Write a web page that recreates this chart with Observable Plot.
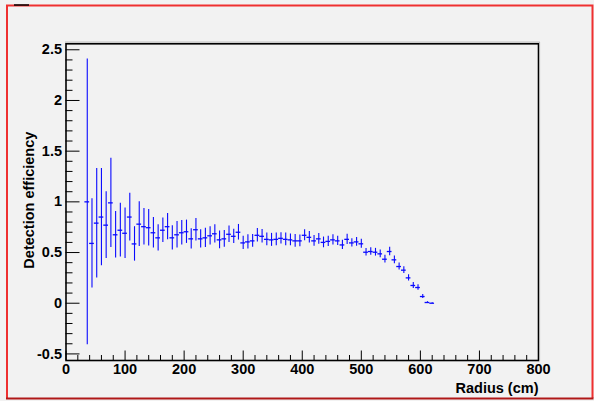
<!DOCTYPE html>
<html><head><meta charset="utf-8">
<script src="https://cdn.jsdelivr.net/npm/d3@7"></script>
<script src="https://cdn.jsdelivr.net/npm/@observablehq/plot@0.6"></script>
<style>
html,body{margin:0;padding:0;background:#f2f2f2;}
#chart svg{display:block;}
</style></head><body><div id="chart"></div>
<script>
// Bin centres (cm), bin width 8 cm
const radius = [36,44,52,60,68,76,84,92,100,108,116,124,132,140,148,156,164,172,180,188,196,204,212,220,228,236,244,252,260,268,276,284,292,300,308,316,324,332,340,348,356,364,372,380,388,396,404,412,420,428,436,444,452,460,468,476,484,492,500,508,516,524,532,540,548,556,564,572,580,588,596,604,612,620];
const efficiency = [1.00,0.59,0.79,0.85,0.77,0.99,0.675,0.72,0.69,0.85,0.585,0.78,0.755,0.745,0.695,0.645,0.72,0.755,0.645,0.675,0.695,0.705,0.635,0.725,0.635,0.645,0.665,0.685,0.625,0.635,0.68,0.66,0.70,0.595,0.605,0.615,0.67,0.66,0.63,0.625,0.63,0.64,0.63,0.625,0.615,0.615,0.67,0.65,0.615,0.635,0.60,0.61,0.625,0.615,0.575,0.63,0.595,0.605,0.586,0.503,0.51,0.503,0.487,0.434,0.51,0.428,0.362,0.326,0.25,0.175,0.155,0.066,0.007,0.0];
const efficiencyError = [1.41,0.44,0.54,0.48,0.33,0.44,0.23,0.265,0.25,0.235,0.17,0.22,0.18,0.18,0.15,0.13,0.12,0.13,0.12,0.13,0.12,0.115,0.10,0.11,0.09,0.095,0.09,0.09,0.087,0.082,0.082,0.07,0.077,0.066,0.07,0.062,0.067,0.066,0.062,0.064,0.062,0.055,0.062,0.059,0.062,0.058,0.054,0.057,0.053,0.053,0.053,0.05,0.051,0.046,0.046,0.05,0.041,0.043,0.044,0.038,0.038,0.038,0.038,0.038,0.041,0.038,0.035,0.033,0.032,0.03,0.027,0.02,0.008,0.004];
const binHalfWidth = 4;

const xMajorTicks = [0,100,200,300,400,500,600,700,800];
const xTickLabels = ["0","100","200","300","400","500","600","700","800"];
const xMinorTicks = [20,40,60,80,120,140,160,180,220,240,260,280,320,340,360,380,420,440,460,480,520,540,560,580,620,640,660,680,720,740,760,780];
const yMajorTicks = [-0.5,0,0.5,1,1.5,2,2.5];
const yTickLabels = ["-0.5","0","0.5","1","1.5","2","2.5"];
const yMinorTicks = [-0.4,-0.3,-0.2,-0.1,0.1,0.2,0.3,0.4,0.6,0.7,0.8,0.9,1.1,1.2,1.3,1.4,1.6,1.7,1.8,1.9,2.1,2.2,2.3,2.4];
const xTitle = "Radius (cm)";
const yTitle = "Detection efficiency";

const data = radius.map((r, i) => ({r, v: efficiency[i], e: efficiencyError[i]}));
const blue = "#0a0aff";
const font = "'Liberation Sans', Arial, Helvetica, sans-serif";

const chart = Plot.plot({
  width: 594, height: 401,
  marginLeft: 65.5, marginRight: 56, marginTop: 43.3, marginBottom: 41,
  style: {background: "#f2f2f2", fontFamily: font, fontWeight: "bold", fontSize: "14.5px", color: "#000", overflow: "visible"},
  x: {domain: [0, 800], label: null},
  y: {domain: [-0.565, 2.559], label: null},
  marks: [
    // error bars
    Plot.ruleX(data, {x: "r", y1: d => d.v - d.e, y2: d => d.v + d.e, stroke: blue, strokeWidth: 1.1}),
    Plot.ruleY(data, {y: "v", x1: d => d.r - binHalfWidth, x2: d => d.r + binHalfWidth, stroke: blue, strokeWidth: 1.3}),
    // inward ticks
    Plot.axisY(yMajorTicks, {tickSize: 14, dx: 14, fill: "none", stroke: "#000"}),
    Plot.axisY(yMinorTicks, {tickSize: 7, dx: 7, fill: "none", stroke: "#000"}),
    Plot.axisX(xMajorTicks, {anchor: "bottom", tickSize: 9.5, dy: -9.5, fill: "none", stroke: "#000"}),
    Plot.axisX(xMinorTicks, {anchor: "bottom", tickSize: 5, dy: -5, fill: "none", stroke: "#000"}),
    // tick labels
    Plot.axisY(yMajorTicks, {tickSize: 0, tickPadding: 4, tickFormat: d => yTickLabels[yMajorTicks.indexOf(d)], fill: "#000"}),
    Plot.axisX(xMajorTicks, {anchor: "bottom", tickSize: 0, tickPadding: 3, tickFormat: d => xTickLabels[xMajorTicks.indexOf(d)], fill: "#000"}),
    // titles
    Plot.text([xTitle], {frameAnchor: "bottom-right", text: d => d, textAnchor: "end", lineAnchor: "bottom", dy: 32, fill: "#000"}),
    Plot.text([yTitle], {frameAnchor: "left", text: d => d, rotate: -90, textAnchor: "middle", lineAnchor: "middle", dx: -37, dy: -2, fill: "#000"}),
    Plot.frame({stroke: "#000", strokeWidth: 1.6})
  ]
});
document.getElementById("chart").appendChild(chart);

// canvas decorations (ROOT frame shading, canvas border)
const svg = d3.select(chart);
svg.append("line").attr("x1", 65).attr("x2", 540).attr("y1", 42.1).attr("y2", 42.1).attr("stroke", "#b4b4b4").attr("stroke-width", 1);
svg.append("line").attr("x1", 539.6).attr("x2", 539.6).attr("y1", 42).attr("y2", 361).attr("stroke", "#b4b4b4").attr("stroke-width", 1);
svg.append("path").attr("d", "M7,398 V5.5 H592.5 V398").attr("fill", "none").attr("stroke", "#ef3030").attr("stroke-width", 2);
svg.append("line").attr("x1", 6).attr("x2", 593.5).attr("y1", 398.5).attr("y2", 398.5).attr("stroke", "#b01818").attr("stroke-width", 2);
svg.append("line").attr("x1", 14).attr("x2", 29).attr("y1", 5).attr("y2", 5).attr("stroke", "#000").attr("stroke-width", 1.5);
</script>
</body></html>
